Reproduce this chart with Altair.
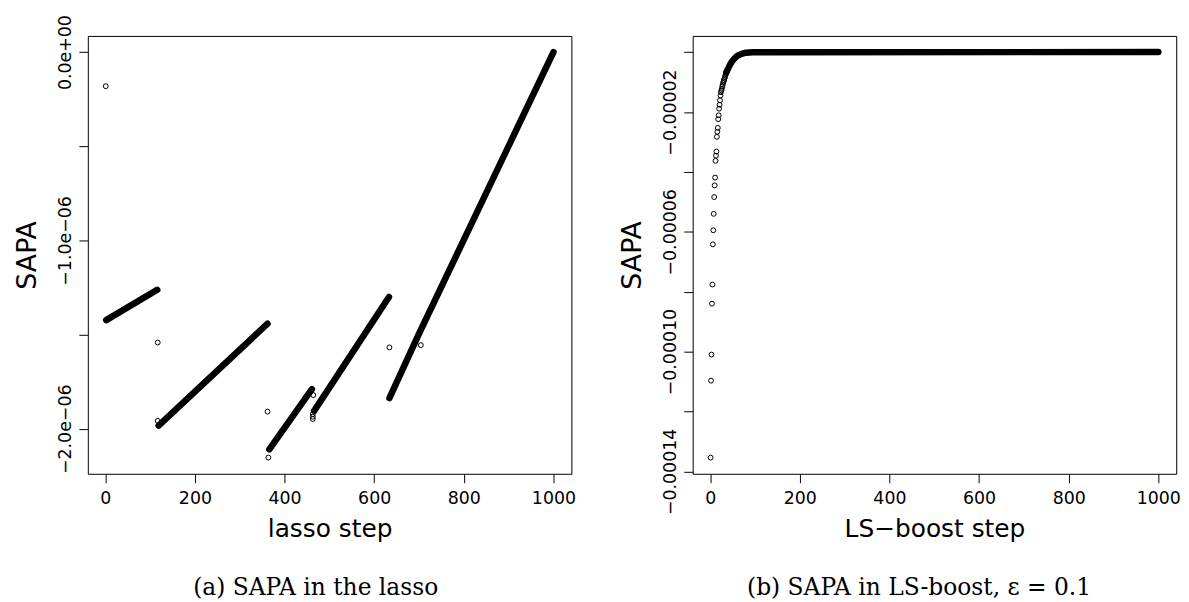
import altair as alt
import pandas as pd

# ---------------- panel (a): SAPA in the lasso ----------------
# dense runs of points (drawn as thick strokes), segment id / step / SAPA
lasso_run_id = [1, 1, 2, 2, 3, 3, 4, 4, 5, 5, 5]
lasso_run_step = [2, 116, 119, 362, 366, 461, 466, 633, 634, 699, 1000]
lasso_run_sapa = [-1.423e-6, -1.262e-6, -1.983e-6, -1.442e-6, -2.109e-6, -1.789e-6,
                  -1.905e-6, -1.300e-6, -1.837e-6, -1.500e-6, 0.0]
# isolated points
lasso_pt_step = [1, 117, 117, 362, 364, 464, 463, 463, 463, 634, 704]
lasso_pt_sapa = [-0.181e-6, -1.542e-6, -1.958e-6, -1.909e-6, -2.153e-6, -1.821e-6,
                 -1.922e-6, -1.936e-6, -1.948e-6, -1.568e-6, -1.556e-6]

# ---------------- panel (b): SAPA in LS-boost ----------------
boost_pt_step = [1, 2, 3, 4, 5, 6, 7, 8, 9, 10, 11, 12, 13, 14, 15, 16, 17, 18,
                 19, 20, 21, 22, 23, 24, 25, 26, 27, 28, 29, 30, 31, 32, 33, 34, 35, 36]
boost_pt_sapa = [-13.54e-5, -10.97e-5, -10.10e-5, -8.40e-5, -7.76e-5, -6.42e-5,
                 -5.95e-5, -5.40e-5, -4.84e-5, -4.45e-5, -4.19e-5, -3.63e-5,
                 -3.46e-5, -3.32e-5, -2.83e-5, -2.66e-5, -2.53e-5, -2.24e-5,
                 -2.11e-5, -1.89e-5, -1.76e-5, -1.61e-5, -1.45e-5, -1.34e-5,
                 -1.28e-5, -1.23e-5, -1.15e-5, -1.09e-5, -1.03e-5, -0.98e-5,
                 -0.93e-5, -0.88e-5, -0.83e-5, -0.78e-5, -0.73e-5, -0.68e-5]
# dense run of points (drawn as a thick stroke)
boost_run_step = [36, 40, 45, 50, 55, 61, 70, 80, 95, 1000]
boost_run_sapa = [-0.68e-5, -0.55e-5, -0.40e-5, -0.29e-5, -0.20e-5, -0.12e-5,
                  -0.06e-5, -0.02e-5, -0.003e-5, 0.0]

# ---------------- axis ticks ----------------
x_ticks = [0, 200, 400, 600, 800, 1000]
lasso_y_ticks = [0.0, -0.5e-6, -1.0e-6, -1.5e-6, -2.0e-6]
lasso_y_labels = ["0.0e+00", "", "\u22121.0e\u221206", "", "\u22122.0e\u221206"]
boost_y_ticks = [0.0, -2e-5, -4e-5, -6e-5, -8e-5, -10e-5, -12e-5, -14e-5]
boost_y_labels = ["", "\u22120.00002", "", "\u22120.00006", "", "\u22120.00010", "", "\u22120.00014"]

lasso_y_domain = [-2.2391e-6, 0.0861e-6]
boost_y_domain = [-14.08e-5, 0.54e-5]
x_domain = [-38.96, 1039.96]

W, H = 487, 441
SANS = "DejaVu Sans"
SERIF = "DejaVu Serif"


def label_expr(ticks, labels, mult):
    expr = "''"
    for t, l in reversed(list(zip(ticks, labels))):
        if l:
            expr = f"round(datum.value*{mult}) == {round(t * mult)} ? '{l}' : " + expr
    return expr


def x_axis(title):
    return alt.Axis(values=x_ticks, format="d", title=title, grid=False, domain=False,
                    tickSize=9, tickColor="black", labelColor="black",
                    labelFont=SANS, labelFontSize=17.5, labelPadding=7,
                    labelBaseline="top", labelFlush=False, labelOverlap=False,
                    titleFont=SANS, titleFontSize=25, titleFontWeight="normal",
                    titleColor="black", titleX=W / 2, titleY=63,
                    titleAlign="center", titleBaseline="alphabetic")


def y_axis(ticks, labels, mult):
    return alt.Axis(values=ticks, labelExpr=label_expr(ticks, labels, mult),
                    title="SAPA", grid=False, domain=False,
                    tickSize=9, tickColor="black", labelColor="black",
                    labelFont=SANS, labelFontSize=17.5, labelPadding=8.5,
                    labelAngle=270, labelAlign="center", labelBaseline="alphabetic",
                    labelOverlap=False, labelFlush=False,
                    titleFont=SANS, titleFontSize=27, titleFontWeight="normal",
                    titleColor="black", titleAngle=270, titleX=-52.5, titleY=H / 2,
                    titleAlign="center", titleBaseline="alphabetic")


def panel(run_df, pt_df, xtitle, yticks, ylabels, ymult, ydomain, caption, dx):
    xs = alt.Scale(domain=x_domain, nice=False, zero=False)
    ys = alt.Scale(domain=ydomain, nice=False, zero=False)
    run = alt.Chart(run_df).mark_line(color="black", strokeWidth=6.5,
                                      strokeCap="round", strokeJoin="round").encode(
        x=alt.X("step:Q", scale=xs, axis=x_axis(xtitle)),
        y=alt.Y("sapa:Q", scale=ys, axis=y_axis(yticks, ylabels, ymult)),
        detail="id:N",
        order="step:Q",
    )
    pts = alt.Chart(pt_df).mark_point(shape="circle", filled=False, color="black",
                                      size=24, strokeWidth=1, opacity=1).encode(
        x=alt.X("step:Q", scale=xs),
        y=alt.Y("sapa:Q", scale=ys),
    )
    return alt.layer(run, pts).properties(
        width=W, height=H,
        title=alt.TitleParams(text=caption, orient="bottom", anchor="middle",
                              frame="group", font=SERIF, fontSize=23.5,
                              fontWeight="normal", color="black", dx=dx,
                              offset=54, baseline="alphabetic"),
    )


lasso_run = pd.DataFrame({"id": lasso_run_id, "step": lasso_run_step, "sapa": lasso_run_sapa})
lasso_pts = pd.DataFrame({"step": lasso_pt_step, "sapa": lasso_pt_sapa})
boost_run = pd.DataFrame({"id": [1] * len(boost_run_step), "step": boost_run_step,
                          "sapa": boost_run_sapa})
boost_pts = pd.DataFrame({"step": boost_pt_step, "sapa": boost_pt_sapa})

left = panel(lasso_run, lasso_pts, "lasso step", lasso_y_ticks, lasso_y_labels, 2e6,
             lasso_y_domain, "(a) SAPA in the lasso", -14)
right = panel(boost_run, boost_pts, "LS\u2212boost step", boost_y_ticks, boost_y_labels, 1e5,
              boost_y_domain, "(b) SAPA in LS-boost, \u03b5 = 0.1", -15.5)

chart = alt.hconcat(left, right, spacing=122.2, bounds="flush").resolve_scale(
    x="independent", y="independent"
).properties(
    padding={"left": 5.4, "top": 4, "right": 0, "bottom": 0},
    background="white",
).configure_view(stroke="black", strokeWidth=1)

chart.save("out.html", embed_options={"renderer": "svg", "actions": False})
